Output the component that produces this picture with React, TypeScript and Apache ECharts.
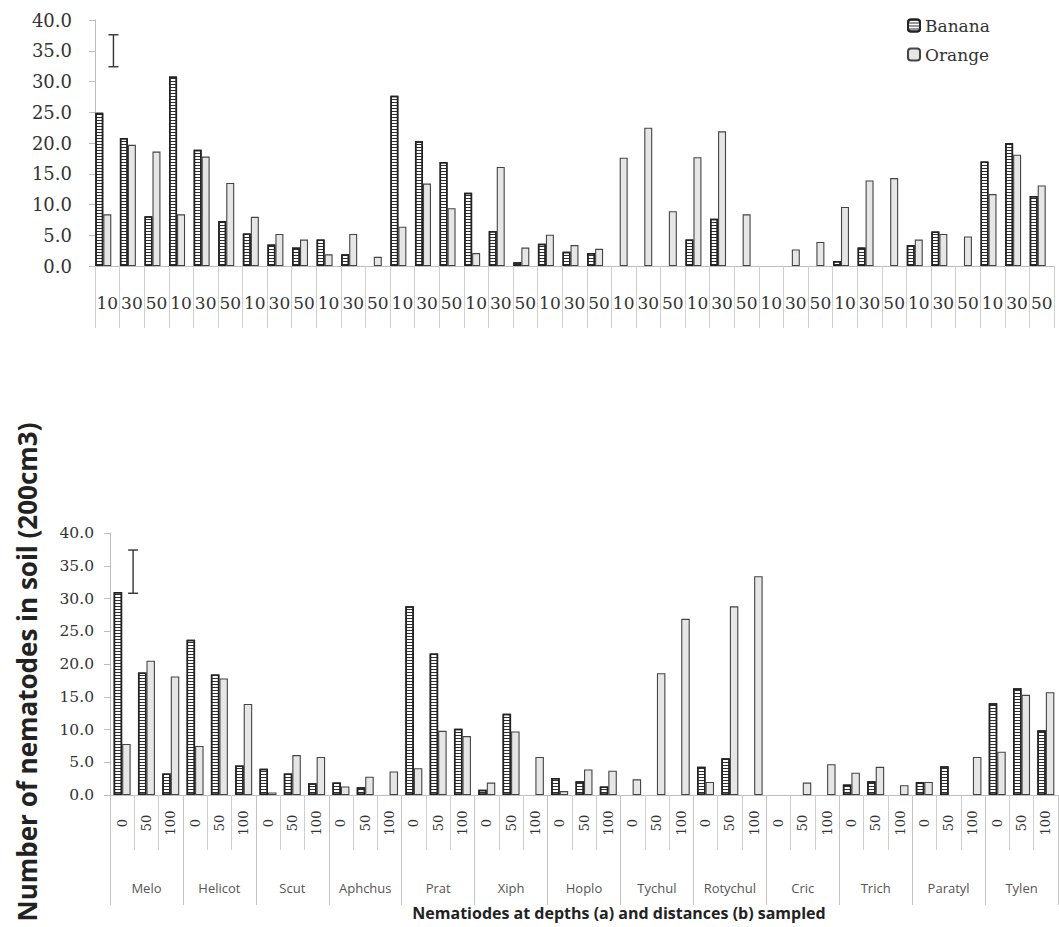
import React, { useEffect, useRef } from "react";
import * as echarts from "echarts";

// ---------- data ----------
const nematodes = ["Melo", "Helicot", "Scut", "Aphchus", "Prat", "Xiph", "Hoplo", "Tychul", "Rotychul", "Cric", "Trich", "Paratyl", "Tylen"];
const depthTicks = ["10", "30", "50"];
const distanceTicks = ["0", "50", "100"];
const yTicks = [0, 5, 10, 15, 20, 25, 30, 35, 40];

// (a) depths
const depthBanana = [24.9, 20.8, 8.1, 30.8, 18.9, 7.3, 5.3, 3.5, 3.0, 4.3, 1.9, null, 27.7, 20.3, 16.9, 11.9, 5.7, 0.6, 3.6, 2.3, 2.1, null, null, null, 4.3, 7.7, null, null, null, null, 0.8, 3.0, null, 3.4, 5.6, null, 17.0, 20.0, 11.4];
const depthOrange = [8.4, 19.7, 18.6, 8.4, 17.8, 13.5, 8.0, 5.2, 4.3, 1.9, 5.2, 1.5, 6.4, 13.4, 9.4, 2.1, 16.1, 3.0, 5.1, 3.4, 2.8, 17.6, 22.5, 8.9, 17.7, 21.9, 8.4, null, 2.7, 3.9, 9.6, 13.9, 14.3, 4.3, 5.2, 4.8, 11.7, 18.1, 13.1];
const depthErrorBar = [[0, 32.4, 37.6]];

// (b) distances
const distanceBanana = [31.0, 18.7, 3.3, 23.7, 18.4, 4.5, 4.0, 3.3, 1.8, 1.9, 1.2, null, 28.8, 21.6, 10.1, 0.8, 12.4, null, 2.6, 2.1, 1.3, null, null, null, 4.3, 5.6, null, null, null, null, 1.6, 2.1, null, 2.0, 4.4, null, 14.0, 16.3, 9.9];
const distanceOrange = [7.8, 20.5, 18.1, 7.5, 17.8, 13.9, 0.4, 6.1, 5.8, 1.3, 2.8, 3.6, 4.1, 9.8, 9.0, 1.9, 9.7, 5.8, 0.6, 3.9, 3.7, 2.4, 18.6, 26.9, 2.0, 28.8, 33.4, null, 1.9, 4.7, 3.4, 4.3, 1.5, 2.0, null, 5.8, 6.6, 15.3, 15.7];
const distanceErrorBar = [[0, 30.8, 37.4]];

const depthCategories = nematodes.flatMap(() => depthTicks);
const distanceCategories = nematodes.flatMap(() => distanceTicks);

const yTitle = "Number of nematodes in soil (200cm3)";
const xTitle = "Nematiodes at depths (a) and distances (b) sampled";

// ---------- styles ----------
const SERIF = '"DejaVu Serif", serif';
const SANS = '"Open Sans", "Noto Sans", sans-serif';
const INK = "#222222";

const bananaStyle = {
  color: "#ffffff",
  borderColor: INK,
  borderWidth: 1.5,
  decal: {
    symbol: "rect",
    symbolSize: 1,
    dashArrayX: [1, 0],
    dashArrayY: [1, 2],
    color: "#2e2e2e",
    backgroundColor: "#ffffff",
    rotation: 0,
  },
};
const orangeStyle = { color: "#e6e6e6", borderColor: "#444", borderWidth: 1.1 };

function errorRenderer(shiftRatio: number) {
  return (params: any, api: any) => {
    const lo = api.coord([api.value(0), api.value(1)]);
    const hi = api.coord([api.value(0), api.value(2)]);
    const band = api.size([1, 0])[0];
    const x = lo[0] + band * shiftRatio;
    const cap = 5;
    const st = { stroke: "#333", lineWidth: 1.4 };
    return {
      type: "group",
      children: [
        { type: "line", shape: { x1: x, y1: lo[1], x2: x, y2: hi[1] }, style: st },
        { type: "line", shape: { x1: x - cap, y1: lo[1], x2: x + cap, y2: lo[1] }, style: st },
        { type: "line", shape: { x1: x - cap, y1: hi[1], x2: x + cap, y2: hi[1] }, style: st },
      ],
    };
  };
}

function yAxisFor(gridIndex: number, fontSize: number, margin: number) {
  return {
    type: "value",
    gridIndex,
    min: yTicks[0],
    max: yTicks[yTicks.length - 1],
    interval: yTicks[1] - yTicks[0],
    splitLine: { show: false },
    axisLine: { show: true, lineStyle: { color: "#bdbdbd", width: 1 } },
    axisTick: { show: true, length: 6, lineStyle: { color: "#bdbdbd" } },
    axisLabel: {
      margin,
      formatter: (v: number) => v.toFixed(1),
      fontFamily: SERIF,
      fontSize,
      color: "#333",
    },
  };
}

export default function App() {
  const ref = useRef<HTMLDivElement>(null);

  useEffect(() => {
    document.body.style.margin = "0";
    document.body.style.background = "#ffffff";
    const chart = echarts.init(ref.current!, null, { renderer: "svg" });
    const option: any = {
      animation: false,
      backgroundColor: "#ffffff",
      legend: {
        data: ["Banana", "Orange"],
        orient: "vertical",
        left: 902,
        top: 12,
        itemWidth: 12,
        itemHeight: 12,
        itemGap: 12,
        textStyle: { fontFamily: SERIF, fontSize: 17, color: "#333" },
      },
      grid: [
        { left: 95, top: 20, width: 959, height: 246, containLabel: false, outerBoundsMode: "none" },
        { left: 110, top: 533, width: 948, height: 262, containLabel: false, outerBoundsMode: "none" },
      ],
      xAxis: [
        {
          type: "category",
          gridIndex: 0,
          data: depthCategories,
          axisLine: { lineStyle: { color: "#bdbdbd" } },
          axisTick: { show: true, interval: 0, length: 62, lineStyle: { color: "#cfcfcf" } },
          axisLabel: { interval: 0, margin: 28, fontFamily: SERIF, fontSize: 17, color: "#333" },
        },
        {
          type: "category",
          gridIndex: 1,
          data: distanceCategories,
          axisLine: { lineStyle: { color: "#bdbdbd" } },
          axisTick: { show: true, interval: 0, length: 55, lineStyle: { color: "#cfcfcf" } },
          axisLabel: {
            interval: 0,
            rotate: 90,
            align: "center",
            verticalAlign: "middle",
            margin: 28,
            fontFamily: SERIF,
            fontSize: 13,
            color: "#333",
          },
        },
        {
          type: "category",
          gridIndex: 1,
          position: "bottom",
          data: nematodes,
          axisLine: { show: false },
          axisTick: { show: true, interval: 0, length: 110, lineStyle: { color: "#c4c4c4" } },
          axisLabel: { interval: 0, margin: 86, fontFamily: SANS, fontSize: 13, color: "#555" },
        },
      ],
      yAxis: [yAxisFor(0, 18, 23), yAxisFor(1, 15.5, 16)],
      series: [
        {
          name: "Banana",
          type: "bar",
          xAxisIndex: 0,
          yAxisIndex: 0,
          data: depthBanana,
          barWidth: 8,
          barGap: "0%",
          itemStyle: bananaStyle,
        },
        {
          name: "Orange",
          type: "bar",
          xAxisIndex: 0,
          yAxisIndex: 0,
          data: depthOrange,
          barWidth: 8,
          barGap: "0%",
          itemStyle: orangeStyle,
        },
        {
          name: "spacer",
          type: "bar",
          xAxisIndex: 0,
          yAxisIndex: 0,
          data: depthOrange.map(() => null),
          barWidth: 8,
          barGap: "0%",
        },
        {
          name: "Banana",
          type: "bar",
          xAxisIndex: 1,
          yAxisIndex: 1,
          data: distanceBanana,
          barWidth: 8.5,
          barGap: "0%",
          itemStyle: bananaStyle,
        },
        {
          name: "Orange",
          type: "bar",
          xAxisIndex: 1,
          yAxisIndex: 1,
          data: distanceOrange,
          barWidth: 8.5,
          barGap: "0%",
          itemStyle: orangeStyle,
        },
        {
          name: "err-a",
          type: "custom",
          xAxisIndex: 0,
          yAxisIndex: 0,
          data: depthErrorBar,
          encode: { x: 0, y: [1, 2] },
          renderItem: errorRenderer(0.25),
          silent: true,
        },
        {
          name: "err-b",
          type: "custom",
          xAxisIndex: 1,
          yAxisIndex: 1,
          data: distanceErrorBar,
          encode: { x: 0, y: [1, 2] },
          renderItem: errorRenderer(0.45),
          silent: true,
        },
      ],
      graphic: [
        {
          type: "text",
          x: 27,
          y: 672,
          rotation: Math.PI / 2,
          style: {
            text: yTitle,
            font: 'bold 26px "Open Sans", "Noto Sans", sans-serif',
            fill: "#222",
            align: "center",
            verticalAlign: "middle",
          },
        },
        {
          type: "text",
          x: 619,
          y: 913,
          style: {
            text: xTitle,
            font: 'bold 16px "Open Sans", "Noto Sans", sans-serif',
            fill: "#222",
            align: "center",
            verticalAlign: "middle",
          },
        },
      ],
    };
    chart.setOption(option);
    return () => chart.dispose();
  }, []);

  return <div ref={ref} style={{ width: 1059, height: 927, background: "#fff" }} />;
}
